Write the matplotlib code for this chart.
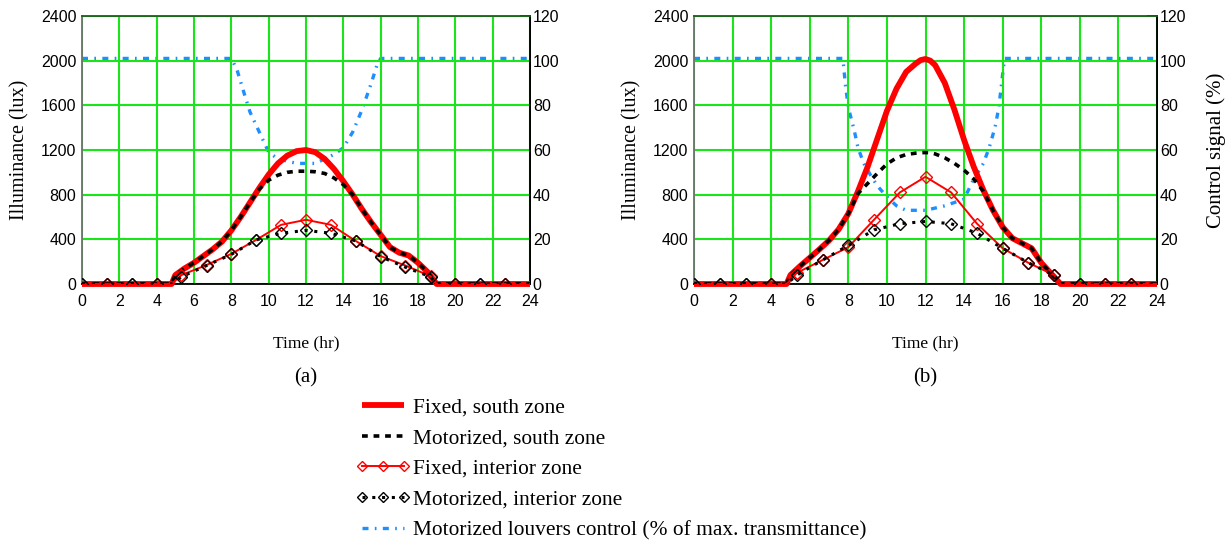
import numpy as np
import matplotlib
matplotlib.use("Agg")
import matplotlib.pyplot as plt
from matplotlib.lines import Line2D

# ---------------- data ----------------
x_ticks = [0, 2, 4, 6, 8, 10, 12, 14, 16, 18, 20, 22, 24]
y_ticks = [0, 400, 800, 1200, 1600, 2000, 2400]
y2_ticks = [0, 20, 40, 60, 80, 100, 120]

# (a)
t_south_a = [0, 4.8, 5.0, 5.5, 6, 6.5, 7, 7.5, 8, 8.5, 9, 9.5, 10, 10.5, 11, 11.5, 12, 12.5, 13, 13.5, 14,
             14.5, 15, 15.5, 16, 16.5, 17, 17.5, 18, 18.5, 19, 24]
fixed_south_a = [0, 0, 80, 140, 190, 250, 310, 380, 480, 600, 730, 860, 980, 1080, 1150, 1190, 1200, 1180,
                 1120, 1030, 920, 800, 670, 550, 440, 330, 280, 255, 190, 110, 0, 0]
motor_south_a = [0, 0, 80, 140, 190, 250, 310, 380, 480, 600, 730, 850, 930, 975, 1000, 1010, 1010, 1005,
                 990, 950, 890, 800, 670, 550, 440, 330, 280, 255, 190, 110, 0, 0]

t_int = [0, 1.33, 2.67, 4.0, 4.8, 5.33, 6.67, 8.0, 9.33, 10.67, 12.0, 13.33, 14.67, 16.0, 17.33, 18.67,
         19.0, 20.0, 21.33, 22.67, 24]
int_marks = [0, 1, 2, 3, 5, 6, 7, 8, 9, 10, 11, 12, 13, 14, 15, 17, 18, 19]
fixed_int_a = [0, 0, 0, 0, 0, 80, 170, 270, 395, 530, 575, 530, 385, 250, 165, 70, 0, 0, 0, 0, 0]
motor_int_a = [0, 0, 0, 0, 0, 65, 165, 265, 395, 455, 480, 455, 385, 245, 150, 65, 0, 0, 0, 0, 0]

t_ctrl_a = [0, 8.0, 8.3, 8.7, 9.0, 9.5, 10.0, 10.5, 11.0, 11.5, 12.0, 12.5, 13.0, 13.5, 14.0, 14.5, 15.0,
            15.5, 15.8, 16.0, 24]
ctrl_a = [101, 101, 96, 85, 77, 68, 59, 56, 55, 54, 54, 54, 56, 58, 61, 68, 78, 90, 98, 101, 101]

# (b)
t_south_b = [0, 4.8, 5.0, 5.5, 6, 6.5, 7, 7.5, 8, 8.5, 9, 9.5, 10, 10.5, 11, 11.5, 11.75, 12, 12.25, 12.5,
             13, 13.5, 14, 14.5, 15, 15.5, 16, 16.5, 17, 17.5, 18, 18.5, 19, 24]
fixed_south_b = [0, 0, 80, 160, 235, 310, 390, 490, 630, 830, 1050, 1300, 1550, 1750, 1900, 1975, 2005, 2015,
                 2000, 1960, 1800, 1560, 1290, 1050, 840, 660, 510, 410, 365, 320, 190, 95, 0, 0]
motor_south_b = [0, 0, 80, 160, 235, 310, 390, 490, 630, 810, 900, 990, 1075, 1130, 1160, 1172, 1176, 1177,
                 1175, 1165, 1130, 1080, 1020, 940, 830, 660, 510, 410, 365, 320, 190, 95, 0, 0]

fixed_int_b = [0, 0, 0, 0, 0, 100, 215, 330, 575, 820, 960, 820, 540, 320, 190, 80, 0, 0, 0, 0, 0]
motor_int_b = [0, 0, 0, 0, 0, 80, 215, 345, 485, 540, 560, 540, 455, 320, 190, 80, 0, 0, 0, 0, 0]

t_ctrl_b = [0, 7.7, 7.75, 7.85, 8.0, 8.3, 8.5, 8.8, 9.2, 9.5, 10.0, 10.5, 11.0, 12.0, 13.0, 14.0, 14.5,
            15.0, 15.3, 15.6, 15.8, 16.0, 16.1, 24]
ctrl_b = [101, 101, 98, 89, 79, 69, 61, 54, 48, 44, 39, 35, 33, 33, 35, 38, 47, 54, 61, 70, 79, 94, 101, 101]

labels = ["Fixed, south zone", "Motorized, south zone", "Fixed, interior zone",
          "Motorized, interior zone", "Motorized louvers control (% of max. transmittance)"]

# ---------------- style ----------------
SERIF = ["Liberation Serif", "DejaVu Serif"]
NARROW = ["Liberation Sans Narrow", "Liberation Sans", "DejaVu Sans"]
GRID = "#19e619"
RED = "#ff0000"
BLUE = "#1e8fff"

W, H = 1231, 540
fig = plt.figure(figsize=(W / 100, H / 100), dpi=100)

s_red = dict(color=RED, lw=4.2, solid_capstyle="butt")
s_black = dict(color="black", lw=2.6, linestyle=(0, (1.6, 1.6)))
s_rint = dict(color=RED, lw=1.4, marker="D", markersize=6.5, markerfacecolor="none",
              markeredgecolor=RED, markeredgewidth=1.0)
s_bint = dict(color="black", lw=2.2, linestyle=(0, (1, 2.2)), marker="D", markersize=6.5,
              markerfacecolor="none", markeredgecolor="black", markeredgewidth=1.0)
s_blue = dict(color=BLUE, lw=2.4, linestyle=(0, (1.8, 1.9, 0.5, 1.9)))


def make_panel(rect, ts, fs, ms, fi, mi, tc, ctrl, right_label, tag):
    ax = fig.add_axes(rect)
    ax.set_xlim(0, 24)
    ax.set_ylim(0, 2400)
    ax.set_xticks(x_ticks)
    ax.set_yticks(y_ticks)
    ax.grid(True, color=GRID, lw=1.5)
    ax.set_axisbelow(True)
    ax.tick_params(axis="y", length=0, labelsize=11.5, pad=4)
    ax.tick_params(axis="x", length=0, labelsize=11.5, pad=7)
    for lab in ax.get_xticklabels() + ax.get_yticklabels():
        lab.set_family(NARROW)
    ax.spines["left"].set_color("#707070")
    ax.spines["top"].set_color("#1d5e1d")
    ax.spines["bottom"].set_color("black")
    for sp in ax.spines.values():
        sp.set_linewidth(1.3)

    ax2 = ax.twinx()
    ax2.set_ylim(0, 120)
    ax2.set_yticks(y2_ticks)
    ax2.tick_params(axis="y", direction="in", length=7, width=1.2, labelsize=11.5, pad=2)
    for lab in ax2.get_yticklabels():
        lab.set_family(NARROW)
    for sp in ["left", "top", "bottom"]:
        ax2.spines[sp].set_visible(False)
    ax2.spines["right"].set_linewidth(1.3)

    ax2.plot(tc, ctrl, **s_blue, zorder=2)
    ax.plot(ts, fs, **s_red, zorder=3, clip_on=False)
    ax.plot(ts, ms, **s_black, zorder=4)
    ax.plot(t_int, fi, markevery=int_marks, **s_rint, zorder=5)
    ax.plot(t_int, mi, markevery=int_marks, **s_bint, zorder=6)
    ax.set_zorder(ax2.get_zorder() + 1)
    ax.patch.set_visible(False)
    ax.set_xlabel("Time (hr)", family=SERIF, fontsize=12.5, labelpad=19)
    ax.set_ylabel("Illuminance (lux)", family=SERIF, fontsize=14.5, labelpad=8)
    if right_label:
        ax2.set_ylabel("Control signal (%)", family=SERIF, fontsize=15, labelpad=14)
    ax.text(0.5, -0.35, tag, transform=ax.transAxes, ha="center", va="center",
            family=SERIF, fontsize=15)
    return ax, ax2


axA, axA2 = make_panel([82 / W, 1 - 284 / H, 448 / W, 268 / H], t_south_a, fixed_south_a, motor_south_a,
                       fixed_int_a, motor_int_a, t_ctrl_a, ctrl_a, False, "(a)")
axB, axB2 = make_panel([694 / W, 1 - 284 / H, 463 / W, 268 / H], t_south_b, fixed_south_b, motor_south_b,
                       fixed_int_b, motor_int_b, t_ctrl_b, ctrl_b, True, "(b)")

handles = [Line2D([], [], **s_red),
           Line2D([], [], **s_black),
           Line2D([], [], **s_rint),
           Line2D([], [], **s_bint),
           Line2D([], [], **s_blue)]
leg = fig.legend(handles, labels, loc="upper left", bbox_to_anchor=(347 / W, 1 - 389 / H),
                 frameon=False, prop={"family": SERIF, "size": 15.4}, handlelength=2.57,
                 handletextpad=0.1, labelspacing=0.5, borderaxespad=0, markerscale=0.85,
                 numpoints=3)

fig.savefig("out.png", dpi=100)
